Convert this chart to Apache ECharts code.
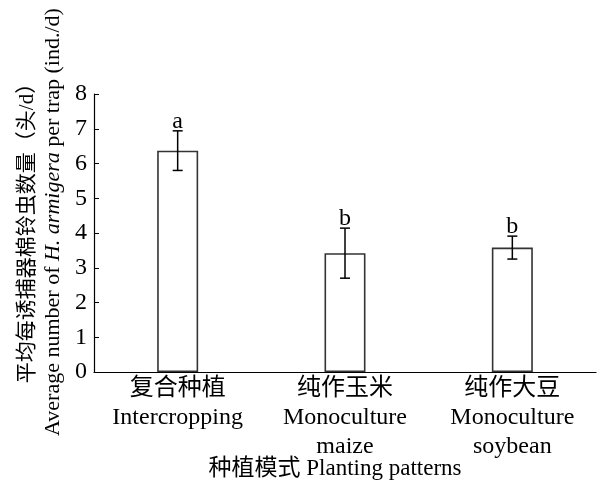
<!DOCTYPE html>
<html>
<head>
<meta charset="utf-8">
<script src="https://cdn.jsdelivr.net/npm/echarts@6/dist/echarts.min.js"></script>
<style>
  html, body { margin: 0; padding: 0; background: #fff; }
  #chart { width: 598px; height: 488px; }
</style>
</head>
<body>
<div id="chart"></div>
<script>
// Planting patterns and trap catches of cotton bollworm
const categories = ['复合种植\nIntercropping', '纯作玉米\nMonoculture\nmaize', '纯作大豆\nMonoculture\nsoybean'];
const meanCatch = [6.37, 3.42, 3.58];
const stdError = [0.57, 0.72, 0.33];
const sigLetters = ['a', 'b', 'b'];
const yTicks = [0, 1, 2, 3, 4, 5, 6, 7, 8];

const FONT = '"Times New Roman", "Liberation Serif", "Noto Sans CJK SC", serif';

const chart = echarts.init(document.getElementById('chart'));

const errData = meanCatch.map((m, i) => [i, m - stdError[i], m + stdError[i], sigLetters[i]]);

chart.setOption({
  animation: false,
  backgroundColor: '#fff',
  grid: { left: 94, right: 2, top: 94, bottom: 116 },
  xAxis: {
    type: 'category',
    data: categories,
    boundaryGap: true,
    axisLine: { lineStyle: { color: '#000', width: 1.2 } },
    axisTick: { inside: true, length: 5, lineStyle: { color: '#000' } },
    axisLabel: {
      color: '#000', fontFamily: FONT, fontSize: 24, lineHeight: 29, margin: 2, interval: 0
    }
  },
  yAxis: {
    type: 'value',
    min: yTicks[0],
    max: yTicks[yTicks.length - 1],
    interval: 1,
    splitLine: { show: false },
    axisLine: { show: true, lineStyle: { color: '#000', width: 1.2 } },
    axisTick: { show: true, inside: true, length: 5, lineStyle: { color: '#000' } },
    axisLabel: { color: '#000', fontFamily: FONT, fontSize: 24, margin: 7 }
  },
  series: [
    {
      type: 'bar',
      data: meanCatch,
      barWidth: 41,
      itemStyle: { color: '#fff', borderColor: '#333', borderWidth: 1.6 }
    },
    {
      type: 'custom',
      data: errData,
      z: 10,
      renderItem: function (params, api) {
        const x = api.value(0);
        const lo = api.coord([x, api.value(1)]);
        const hi = api.coord([x, api.value(2)]);
        const cap = 5;
        const st = { stroke: '#000', lineWidth: 1.5 };
        return {
          type: 'group',
          children: [
            { type: 'line', shape: { x1: lo[0], y1: lo[1], x2: hi[0], y2: hi[1] }, style: st },
            { type: 'line', shape: { x1: lo[0] - cap, y1: lo[1], x2: lo[0] + cap, y2: lo[1] }, style: st },
            { type: 'line', shape: { x1: hi[0] - cap, y1: hi[1], x2: hi[0] + cap, y2: hi[1] }, style: st },
            {
              type: 'text',
              style: {
                x: hi[0], y: hi[1] - 9,
                text: api.value(3),
                fill: '#000',
                font: '24px ' + FONT,
                textAlign: 'center',
                textVerticalAlign: 'middle'
              }
            }
          ]
        };
      }
    }
  ],
  graphic: [
    {
      type: 'text',
      x: 27, y: 228,
      rotation: Math.PI / 2,
      style: {
        text: '平均每诱捕器棉铃虫数量（头/d）',
        fill: '#000',
        font: '21px ' + FONT,
        textAlign: 'center',
        textVerticalAlign: 'middle'
      }
    },
    {
      type: 'text',
      x: 53, y: 222,
      rotation: Math.PI / 2,
      style: {
        text: '{n|Average number of }{i|H. armigera}{n| per trap (ind./d)}',
        textAlign: 'center',
        textVerticalAlign: 'middle',
        rich: {
          n: { fontFamily: FONT, fontSize: 22, fill: '#000' },
          i: { fontFamily: FONT, fontSize: 22, fontStyle: 'italic', fill: '#000' }
        }
      }
    },
    {
      type: 'text',
      x: 335, y: 469,
      style: {
        text: '种植模式 Planting patterns',
        fill: '#000',
        font: '23px ' + FONT,
        textAlign: 'center',
        textVerticalAlign: 'middle'
      }
    }
  ]
});
</script>
</body>
</html>
